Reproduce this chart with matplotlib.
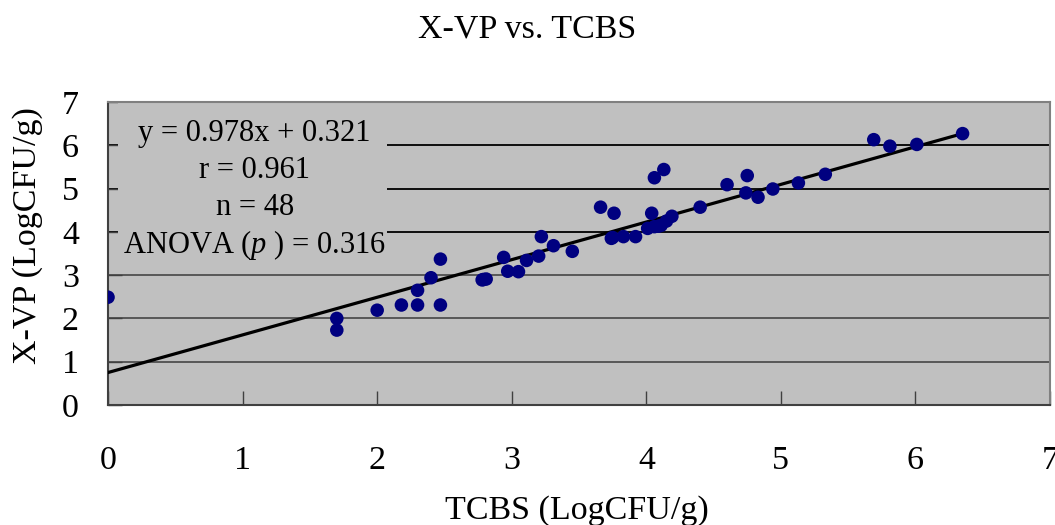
import matplotlib
matplotlib.use("Agg")
import matplotlib.pyplot as plt

# TCBS (x) vs X-VP (y), LogCFU/g
tcbs = [0.00, 1.70, 1.70, 2.00, 2.18, 2.30, 2.30, 2.40, 2.47, 2.47,
        2.78, 2.81, 2.94, 2.97, 3.05, 3.11, 3.20, 3.22, 3.31, 3.45,
        3.66, 3.76, 3.74, 3.83, 3.92, 4.01, 4.04, 4.06, 4.13, 4.06,
        4.11, 4.15, 4.19, 4.40, 4.60, 4.74, 4.75, 4.83, 4.94, 5.13,
        5.33, 5.69, 5.81, 6.01, 6.35, 4.09, 3.75, 2.79]
xvp = [2.49, 2.00, 1.73, 2.19, 2.31, 2.31, 2.65, 2.94, 2.31, 3.37,
       2.89, 2.91, 3.41, 3.09, 3.08, 3.34, 3.44, 3.89, 3.68, 3.55,
       4.57, 4.43, 3.85, 3.89, 3.89, 4.08, 4.43, 5.25, 5.44, 4.12,
       4.15, 4.25, 4.36, 4.57, 5.09, 4.90, 5.30, 4.80, 4.99, 5.13,
       5.33, 6.13, 5.98, 6.02, 6.27, 4.13, 3.87, 2.90]

# trend line as drawn in the original
fit_x = [0.0, 6.35]
fit_y = [0.75, 6.27]

stats_lines = ["y = 0.978x + 0.321", "r = 0.961", "n = 48",
               "ANOVA ($\\it{p}$ ) = 0.316"]

plt.rcParams['font.family'] = ['Liberation Serif', 'DejaVu Serif']
plt.rcParams['mathtext.fontset'] = 'custom'
plt.rcParams['mathtext.it'] = 'Liberation Serif:italic'
plt.rcParams['mathtext.rm'] = 'Liberation Serif'

fig = plt.figure(figsize=(10.55, 5.25), dpi=100)
ax = fig.add_axes([0.1024, 0.2286, 0.8929, 0.5771])
ax.set_facecolor('#C0C0C0')

for yv in range(1, 7):
    col = 'black' if yv >= 4 else '#505050'
    ax.axhline(yv, color=col, lw=1.3, zorder=1)

ax.plot(fit_x, fit_y, color='black', lw=2.3, zorder=3)
ax.scatter(tcbs, xvp, s=95, color='#000080', edgecolors='none', zorder=4)

ax.set_xlim(0, 7)
ax.set_ylim(0, 7)
ax.set_xticks(range(0, 8))
ax.set_yticks(range(0, 8))
ax.tick_params(axis='x', direction='in', length=10, width=1, pad=29,
               labelsize=24.5, color='#404040')
ax.tick_params(axis='y', direction='in', length=10, width=1, pad=21,
               labelsize=24.5, color='#404040')

for side in ['top', 'right']:
    ax.spines[side].set_color('#808080')
    ax.spines[side].set_linewidth(1.5)
for side in ['left', 'bottom']:
    ax.spines[side].set_color('#404040')
    ax.spines[side].set_linewidth(1.5)

# statistics box, same grey as the plot so it hides the grid
box = plt.Rectangle((0.075, 3.3), 2.0, 3.7, facecolor='#C0C0C0',
                    edgecolor='none', zorder=2)
ax.add_patch(box)
for i, line in enumerate(stats_lines):
    ax.text(1.09, 6.27 - i * 0.855, line, ha='center', va='center',
            fontsize=22, zorder=5)

fig.text(0.5, 0.945, "X-VP vs. TCBS", ha='center', va='center', fontsize=24.5)
fig.text(0.547, 0.028, "TCBS (LogCFU/g)", ha='center', va='center',
         fontsize=24.5)
fig.text(0.026, 0.552, "X-VP (LogCFU/g)", ha='center', va='center',
         rotation=90, fontsize=24.5)

fig.savefig('out.png', dpi=100)
